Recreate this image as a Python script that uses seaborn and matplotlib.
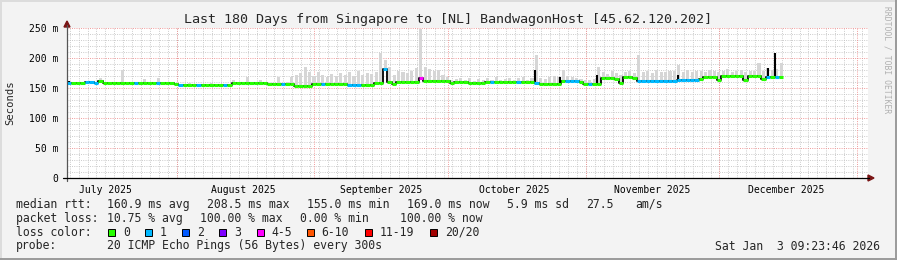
import matplotlib
matplotlib.use("Agg")
import matplotlib.pyplot as plt
import matplotlib.dates as mdates
from matplotlib.patches import Rectangle, Polygon
from matplotlib.lines import Line2D
import numpy as np
import pandas as pd
import seaborn as sns
from datetime import datetime, timedelta

sns.set_style("white")
plt.rcParams["font.family"] = ["DejaVu Sans Mono"]

TITLE = "Last 180 Days from Singapore to [NL] BandwagonHost [45.62.120.202]"
START = datetime(2025, 7, 7, 9, 23, 46)
END = datetime(2026, 1, 3, 9, 23, 46)

# median rtt per day (ms), day 0 = start of graph
median_ms = [
    159, 158, 158, 158, 159.5, 159.5, 158.5, 161, 158, 158,
    158, 158, 158, 158, 158, 158, 158, 158, 158, 158,
    158, 158, 158, 158, 157, 155.5, 155.5, 155.5, 155.5, 155.5,
    155.5, 155.5, 155.5, 155.5, 155.5, 155.5, 155.5, 158, 158, 158,
    158, 158, 158, 158, 158, 156, 156, 156, 156, 156,
    156, 153.5, 153.5, 153.5, 153.5, 157, 157, 157, 157, 157,
    157, 157, 157, 155.5, 155.5, 155.5, 155.5, 155.5, 155.5, 158,
    158, 181, 160, 157, 160.5, 160.5, 160.5, 160.5, 160.5, 166,
    162.5, 162.5, 162.5, 162.5, 162.5, 162.5, 159, 160.5, 160.5, 160,
    158, 158, 158, 158, 159.5, 159.5, 159.5, 159.5, 159.5, 159.5,
    159.5, 159.5, 159.5, 159.5, 160, 158, 156.5, 156.5, 156.5, 156.5,
    157, 161, 161.7, 161.7, 161.7, 160.5, 156.5, 156.5, 156.5, 157.5,
    166, 166, 166, 165, 159, 168, 168, 167.5, 162.2, 162.2,
    162.2, 162.2, 162.2, 162.2, 162.2, 162.2, 162.2, 163, 163.3, 163.3,
    163.3, 163.3, 165, 168, 168, 168, 163, 169.4, 169.4, 169.4,
    169.4, 169.4, 164, 170, 170, 170, 165, 169, 169, 169,
    169,
]

# loss category per day (index into loss_labels)
loss_cat = [
    1, 0, 0, 0, 1, 1, 1, 0, 0, 0,
    0, 0, 0, 0, 0, 1, 0, 0, 0, 0,
    1, 0, 0, 0, 0, 1, 0, 0, 0, 1,
    0, 0, 0, 0, 0, 1, 0, 0, 0, 0,
    0, 0, 0, 0, 0, 0, 0, 0, 1, 0,
    0, 0, 0, 0, 0, 0, 0, 1, 0, 0,
    0, 0, 0, 1, 1, 1, 0, 0, 0, 0,
    0, 1, 0, 0, 0, 0, 0, 0, 0, 4,
    0, 0, 0, 0, 0, 0, 0, 0, 0, 0,
    0, 0, 0, 0, 0, 1, 0, 0, 0, 0,
    0, 1, 0, 0, 0, 1, 0, 0, 0, 0,
    0, 0, 1, 1, 1, 0, 0, 1, 0, 0,
    0, 0, 0, 0, 0, 0, 0, 0, 1, 1,
    1, 1, 1, 1, 1, 1, 1, 1, 1, 1,
    1, 1, 0, 0, 0, 0, 0, 0, 0, 0,
    0, 0, 0, 0, 0, 0, 0, 1, 0, 1,
    0,
]

# upper edge of the smoke (ms) per day
smoke_hi = [
    161, 160, 160, 160, 161, 161, 160, 166, 160, 160,
    160, 160, 180, 160, 160, 160, 160, 165, 160, 160,
    167, 160, 160, 160, 159, 157, 157, 158, 157, 157,
    157, 157, 158, 157, 157, 157, 157, 163, 160, 160,
    169, 160, 160, 163, 160, 158, 158, 169, 158, 160,
    168, 172, 175, 185, 176, 170, 176, 172, 168, 174,
    170, 175, 172, 176, 170, 178, 172, 175, 173, 176,
    208, 197, 185, 172, 178, 176, 175, 178, 183, 249,
    185, 182, 178, 180, 172, 168, 163, 165, 166, 164,
    167, 162, 165, 163, 166, 164, 168, 163, 165, 167,
    164, 166, 168, 163, 166, 205, 166, 165, 168, 170,
    168, 180, 170, 168, 166, 165, 163, 164, 165, 185,
    176, 174, 178, 175, 172, 176, 178, 175, 205, 176,
    178, 175, 180, 177, 176, 179, 178, 188, 177, 180,
    176, 178, 179, 177, 180, 178, 176, 179, 181, 177,
    178, 180, 176, 179, 178, 191, 178, 183, 180, 181,
    191,
]

# short median spikes (day position, peak ms)
spike_day = [0.5, 7.2, 105.2, 110.8, 119.0, 137.2, 157.6, 159.2]
spike_ms = [162, 164, 180, 169, 172, 172, 183, 209]

y_ticks = [0, 50, 100, 150, 200, 250]
y_tick_labels = ["0", "50 m", "100 m", "150 m", "200 m", "250 m"]
month_labels = ["July 2025", "August 2025", "September 2025",
                "October 2025", "November 2025", "December 2025"]
month_label_dates = ["2025-07-16", "2025-08-16", "2025-09-16",
                     "2025-10-16", "2025-11-16", "2025-12-16"]
month_starts = ["2025-08-01", "2025-09-01", "2025-10-01",
                "2025-11-01", "2025-12-01", "2026-01-01"]

loss_labels = ["0", "1", "2", "3", "4-5", "6-10", "11-19", "20/20"]
loss_colors = ["#26ff00", "#00b8ff", "#0059ff", "#7e00ff",
               "#ff00ff", "#ff5500", "#ff0000", "#a10000"]

stats_rtt = ["median rtt:", "160.9 ms avg", "208.5 ms max", "155.0 ms min",
             "169.0 ms now", "5.9 ms sd", "27.5", "am/s"]
stats_loss = ["packet loss:", "10.75 % avg", "100.00 % max", "0.00 % min",
              "100.00 % now"]
probe_text = ["probe:", "20 ICMP Echo Pings (56 Bytes) every 300s"]
stamp = "Sat Jan  3 09:23:46 2026"

# ---------------------------------------------------------------
W, H = 897, 260
fig = plt.figure(figsize=(W / 100, H / 100), dpi=100, facecolor="#f3f3f3")


def fx(px):
    return px / W


def fy(py):
    return 1 - py / H


ax = fig.add_axes([fx(67), fy(178), fx(868) - fx(67), fy(28) - fy(178)])
ax.set_facecolor("white")

x0 = mdates.date2num(START)
x1 = mdates.date2num(END)
n = len(median_ms)
day_x = np.array([mdates.date2num(START + timedelta(days=i)) for i in range(n)])
df = pd.DataFrame({"x": day_x, "median": median_ms, "smoke": smoke_hi,
                   "loss": loss_cat})

# grid
dot = (0, (1, 1.5))
for v in range(10, 250, 10):
    if v % 50:
        ax.axhline(v, color="#c4c4c4", lw=0.65, ls=dot, zorder=0)
for v in [50, 100, 150, 200, 250]:
    ax.axhline(v, color="#ee8c8c", lw=0.65, ls=dot, zorder=0.5)
d = datetime(2025, 7, 8)
while d < END:
    ax.axvline(mdates.date2num(d), color="#c4c4c4", lw=0.65, ls=dot, zorder=0)
    d += timedelta(days=2)
for m in month_starts:
    ax.axvline(mdates.date2num(pd.Timestamp(m)), color="#ee8c8c", lw=0.65,
               ls=dot, zorder=0.5)

# smoke
sh = np.clip(df["smoke"] - df["median"], 0, None)
ax.bar(df["x"] + 0.5, sh, bottom=df["median"], width=0.7, color="#d6d6d6",
       linewidth=0, zorder=1)

# median as step line (black transitions)
sns.lineplot(data=df, x="x", y="median", drawstyle="steps-post", color="black",
             lw=1.3, ax=ax, zorder=2, legend=False)
# spikes
ax.vlines(x0 + np.array(spike_day), [median_ms[int(s)] for s in spike_day], spike_ms,
          color="black", lw=1.5, zorder=2)
# coloured median segments
ax.hlines(df["median"], df["x"], df["x"] + 1,
          colors=[loss_colors[c] for c in df["loss"]], lw=2.2, zorder=3)

ax.set_xlim(x0, x1)
ax.set_ylim(0, 250)
ax.set_xlabel("")
ax.set_ylabel("")
for s in ax.spines.values():
    s.set_visible(False)
ax.set_yticks(y_ticks)
ax.set_yticklabels(y_tick_labels)
ax.set_xticks([mdates.date2num(pd.Timestamp(t)) for t in month_label_dates])
ax.set_xticklabels(month_labels)
ax.tick_params(axis="both", length=0, labelsize=7, colors="black")
ax.tick_params(axis="y", pad=6)
ax.tick_params(axis="x", pad=5)

# axes lines + arrows
fig.add_artist(Line2D([fx(67), fx(67)], [fy(181), fy(25)], color="#555555", lw=0.9))
fig.add_artist(Line2D([fx(63), fx(869)], [fy(178), fy(178)], color="black", lw=0.9))
fig.add_artist(Polygon([[fx(64), fy(27)], [fx(70), fy(27)], [fx(67), fy(21)]],
                       closed=True, color="#7a1515"))
fig.add_artist(Polygon([[fx(868), fy(175)], [fx(868), fy(181)], [fx(874), fy(178)]],
                       closed=True, color="#7a1515"))

# texts
fig.text(fx(448), fy(19), TITLE, ha="center", va="center", fontsize=9.6)
fig.text(fx(10), fy(103), "Seconds", rotation=90, ha="center", va="center",
         fontsize=7.6)
fig.text(fx(887), fy(60), "RRDTOOL / TOBI OETIKER", rotation=270, ha="center",
         va="center", fontsize=5.8, color="#b0b0b0")

LFS = 8.3
for txt, px in zip(stats_rtt, [16, 107.3, 207.3, 307.3, 407.3, 506.7, 585.7, 635]):
    fig.text(fx(px), fy(204.3), txt, ha="left", va="center", fontsize=LFS)
for txt, px in zip(stats_loss, [16, 107.3, 200, 300, 400]):
    fig.text(fx(px), fy(218.3), txt, ha="left", va="center", fontsize=LFS)
fig.text(fx(16), fy(232.3), "loss color:", ha="left", va="center", fontsize=LFS)
box_x = [108.3, 145.3, 181.7, 219, 256.7, 306.7, 365, 430]
lab_x = [123.3, 160, 197.3, 234, 271.7, 321.7, 380, 445]
for lab, col, bx, lx in zip(loss_labels, loss_colors, box_x, lab_x):
    fig.add_artist(Rectangle((fx(bx), fy(236)), fx(7), 7 / H, facecolor=col,
                             edgecolor="black", lw=0.7))
    fig.text(fx(lx), fy(232.3), lab, ha="left", va="center", fontsize=LFS)
fig.text(fx(16), fy(246), probe_text[0], ha="left", va="center", fontsize=LFS)
fig.text(fx(107.3), fy(246), probe_text[1], ha="left", va="center", fontsize=LFS)
fig.text(fx(880), fy(246), stamp, ha="right", va="center", fontsize=LFS)

# frame
fig.add_artist(Line2D([0, 1], [fy(0.5), fy(0.5)], color="#dcdcdc", lw=1.4))
fig.add_artist(Line2D([fx(0.5), fx(0.5)], [0, 1], color="#dcdcdc", lw=1.4))
fig.add_artist(Line2D([0, 1], [fy(259), fy(259)], color="#9a9a9a", lw=1.4))
fig.add_artist(Line2D([fx(896), fx(896)], [0, 1], color="#9a9a9a", lw=1.4))

fig.savefig("out.png", dpi=100, facecolor=fig.get_facecolor())
